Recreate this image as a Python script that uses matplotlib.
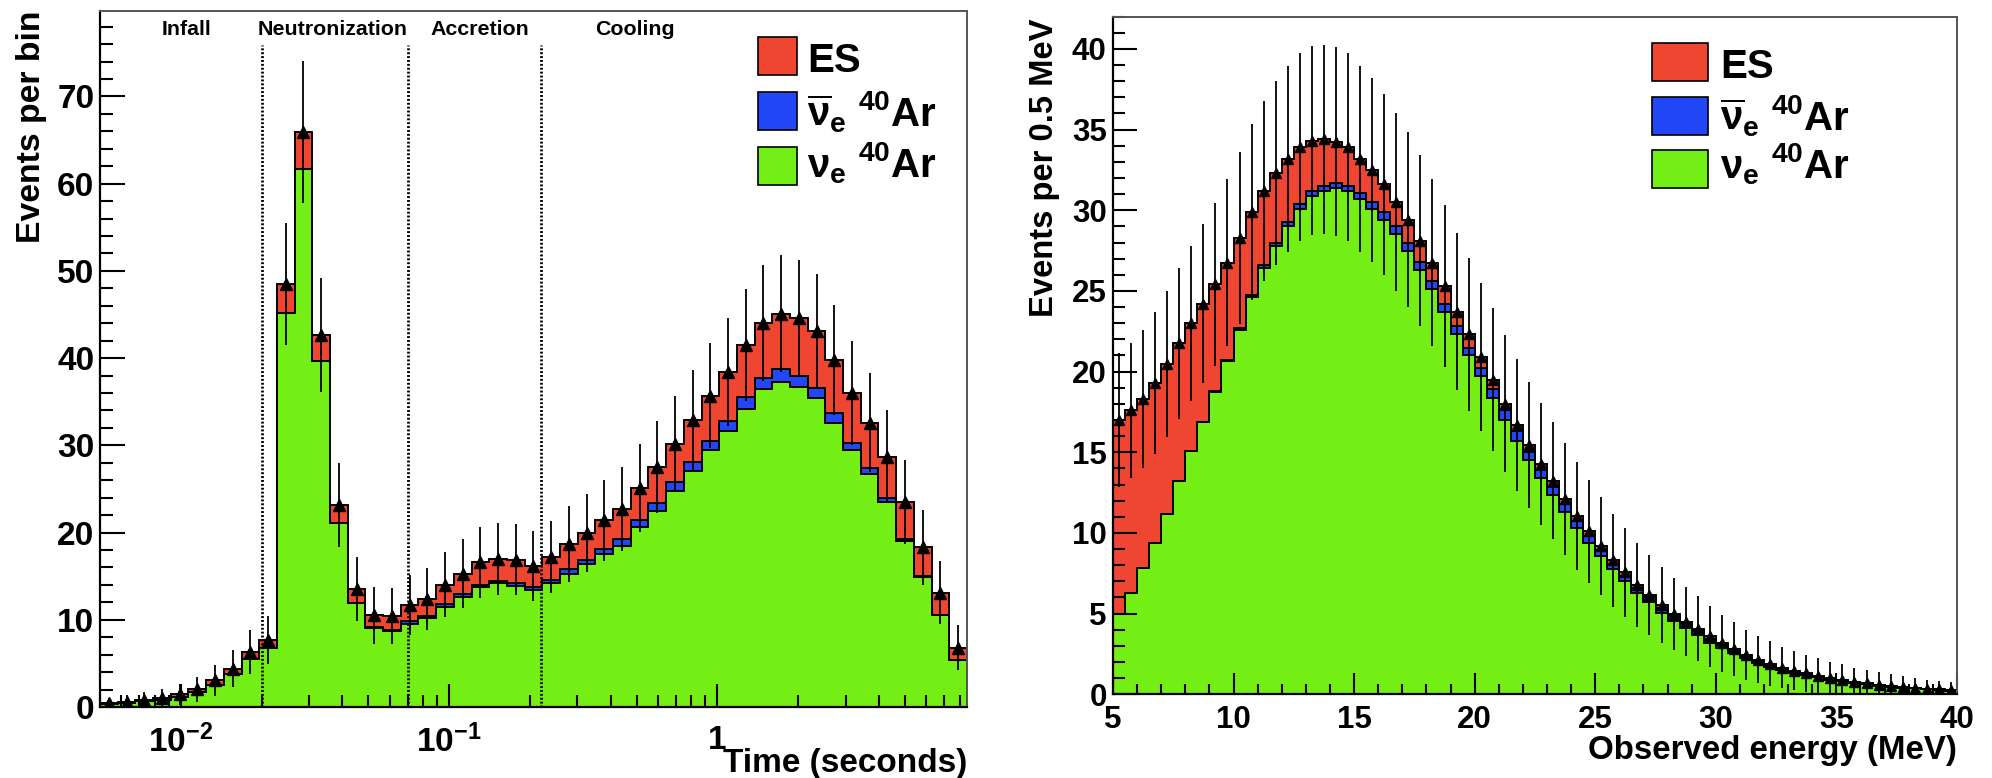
import numpy as np
import matplotlib
matplotlib.use("Agg")
import matplotlib.pyplot as plt
from matplotlib.patches import Rectangle
from matplotlib.ticker import MultipleLocator, NullFormatter, LogLocator

plt.rcParams['font.family'] = ['Liberation Sans', 'DejaVu Sans']
plt.rcParams['font.weight'] = 'bold'
plt.rcParams['axes.labelweight'] = 'bold'
plt.rcParams['mathtext.fontset'] = 'custom'
plt.rcParams['mathtext.rm'] = 'Liberation Sans'
plt.rcParams['mathtext.bf'] = 'Liberation Sans:bold'
plt.rcParams['mathtext.it'] = 'Liberation Sans:italic'
plt.rcParams['mathtext.default'] = 'bf'

RED = '#ee4630'
BLUE = '#2247f7'
GREEN = '#74ef15'

# --- time spectrum: 49 log bins between 5 ms and 8.5 s
t_edges = np.logspace(np.log10(0.005), np.log10(8.5), 50)
t_nue = [0.30, 0.45, 0.65, 0.85, 1.20, 1.75, 2.50, 3.75, 5.45, 6.80,
         45.2, 61.7, 39.7, 21.1, 11.9, 9.1, 8.7, 9.5, 10.2, 11.5,
         12.6, 13.7, 14.2, 13.9, 13.4, 14.2, 15.3, 16.4, 17.5, 18.5,
         20.6, 22.5, 24.8, 27.1, 29.5, 31.6, 34.2, 36.4, 37.3, 36.7,
         35.4, 32.6, 29.5, 26.7, 23.5, 19.0, 14.9, 10.5, 5.4]
t_nuebar = [0, 0, 0, 0, 0, 0, 0, 0, 0, 0,
            0, 0, 0, 0, 0, 0.05, 0.1, 0.3, 0.2, 0.3,
            0.3, 0.3, 0.3, 0.3, 0.3, 0.4, 0.5, 0.5, 0.6, 0.8,
            0.8, 0.9, 1.0, 1.0, 1.0, 1.2, 1.3, 1.3, 1.4, 1.3,
            1.2, 1.1, 0.8, 0.7, 0.5, 0.3, 0.1, 0.05, 0.02]
t_es = [0.10, 0.15, 0.15, 0.20, 0.25, 0.30, 0.55, 0.65, 0.85, 0.90,
        3.3, 4.2, 3.0, 2.1, 1.6, 1.35, 1.6, 1.9, 2.0, 2.2,
        2.4, 2.6, 2.5, 2.7, 2.5, 2.6, 2.9, 3.1, 3.3, 3.4,
        3.7, 4.1, 4.4, 4.8, 5.2, 5.6, 6.0, 6.3, 6.4, 6.6,
        6.5, 6.1, 5.7, 5.2, 4.7, 4.2, 3.3, 2.55, 1.38]

phase_edges = [0.02, 0.07, 0.22]
phase_names = ['Infall', 'Neutronization', 'Accretion', 'Cooling']
phase_label_x = [0.0105, 0.0367, 0.130, 0.491]

# --- energy spectrum: 0.5 MeV bins from 5 to 40 MeV
e_edges = np.linspace(5, 40, 71)
e_nue = [5.0, 6.3, 7.8, 9.4, 11.2, 13.2, 15.1, 16.9, 18.75, 20.65,
         22.6, 24.6, 26.4, 27.8, 29.05, 30.1, 30.9, 31.2, 31.4, 31.2,
         30.7, 30.1, 29.4, 28.5, 27.5, 26.3, 25.1, 23.7, 22.3, 21.0,
         19.7, 18.35, 17.0, 15.7, 14.5, 13.4, 12.35, 11.3, 10.3, 9.35,
         8.55, 7.75, 7.0, 6.25, 5.7, 5.05, 4.55, 4.1, 3.7, 3.2,
         2.85, 2.55, 2.25, 1.95, 1.7, 1.5, 1.35, 1.2, 1.05, 0.9,
         0.8, 0.68, 0.62, 0.54, 0.47, 0.41, 0.36, 0.30, 0.27, 0.22]
e_nuebar = [0, 0, 0, 0, 0, 0, 0, 0, 0.05, 0.05,
            0.1, 0.15, 0.2, 0.2, 0.25, 0.3, 0.3, 0.3, 0.3, 0.3,
            0.4, 0.4, 0.5, 0.5, 0.45, 0.5, 0.5, 0.5, 0.5, 0.45,
            0.5, 0.55, 0.6, 0.6, 0.5, 0.5, 0.5, 0.5, 0.45, 0.45,
            0.4, 0.35, 0.35, 0.35, 0.3, 0.3, 0.3, 0.25, 0.2, 0.25,
            0.2, 0.15, 0.1, 0.13, 0.12, 0.1, 0.05, 0.05, 0.05, 0.06,
            0.06, 0.04, 0.03, 0.03, 0.03, 0.02, 0.02, 0.02, 0.02, 0.02]
e_es = [12.0, 11.3, 10.5, 9.9, 9.25, 8.55, 7.9, 7.3, 6.6, 6.05,
        5.6, 5.15, 4.6, 4.3, 3.9, 3.5, 3.1, 2.9, 2.55, 2.4,
        2.1, 2.0, 1.7, 1.5, 1.45, 1.3, 1.15, 1.1, 0.9, 0.85,
        0.7, 0.6, 0.4, 0.4, 0.45, 0.4, 0.4, 0.3, 0.3, 0.3,
        0.25, 0.2, 0.2, 0.2, 0.15, 0.2, 0.15, 0.15, 0.15, 0.15,
        0.1, 0.1, 0.1, 0.07, 0.08, 0.05, 0.05, 0.05, 0.05, 0.04,
        0.04, 0.03, 0.03, 0.03, 0.02, 0.02, 0.02, 0.01, 0.01, 0.01]

key_labels = ['ES', r'$\overline{\mathrm{\nu}}_{e}$ $^{40}$Ar', r'$\mathrm{\nu}_{e}$ $^{40}$Ar']
key_colors = [RED, BLUE, GREEN]


def draw_stack(ax, edges, centers, nue, nuebar, es, ms):
    nue = np.array(nue)
    lower = nue + np.array(nuebar)
    total = lower + np.array(es)
    # ROOT-style stack: each cumulative histogram filled and outlined in black
    for vals, col in [(total, RED), (lower, BLUE), (nue, GREEN)]:
        ax.stairs(vals, edges, fill=True, facecolor=col, edgecolor='black', linewidth=1.4, zorder=1)
    ax.errorbar(centers, total, yerr=np.sqrt(total), fmt='^', color='black',
                ms=ms, elinewidth=1.3, capsize=0, zorder=4)


def draw_key(ax, x0, tops, w, h, text_x, baselines, size):
    for top, base, lab, col in zip(tops, baselines, key_labels, key_colors):
        ax.add_patch(Rectangle((x0, top - h), w, h, transform=ax.transAxes, facecolor=col,
                               edgecolor='black', linewidth=1.2, zorder=5))
        ax.text(text_x, base, lab, transform=ax.transAxes, fontsize=size,
                ha='left', va='baseline', zorder=5)


def style_frame(ax):
    for side in ['left', 'bottom']:
        ax.spines[side].set_linewidth(1.6)
        ax.spines[side].set_color('black')
    for side in ['top', 'right']:
        ax.spines[side].set_linewidth(1.4)
        ax.spines[side].set_color('#555555')


fig = plt.figure(figsize=(19.92, 7.78), dpi=100)
fig.patch.set_facecolor('white')

# left: time profile
ax1 = fig.add_axes([0.0502, 0.0913, 0.4352, 0.8946])
ax1.set_xscale('log')
t_centers = np.sqrt(t_edges[:-1] * t_edges[1:])
draw_stack(ax1, t_edges, t_centers, t_nue, t_nuebar, t_es, 9)
ax1.vlines(phase_edges, 0, 75.9, colors='black', linestyles=(0, (0.7, 0.7)), linewidth=2.0, zorder=3)
for name, x in zip(phase_names, phase_label_x):
    ax1.text(x, 77.0, name, ha='center', va='baseline', fontsize=15.4)
ax1.set_xlim(t_edges[0], t_edges[-1])
ax1.set_ylim(0, 79.8)
ax1.set_xticks([0.01, 0.1, 1], [r'$10^{-2}$', r'$10^{-1}$', '1'])
ax1.xaxis.set_minor_locator(LogLocator(base=10, subs=np.arange(2, 10)))
ax1.xaxis.set_minor_formatter(NullFormatter())
ax1.yaxis.set_major_locator(MultipleLocator(10))
ax1.yaxis.set_minor_locator(MultipleLocator(2))
ax1.tick_params(which='both', direction='in', top=False, right=False, width=1.5)
ax1.tick_params(axis='y', which='major', length=18, labelsize=24, pad=4)
ax1.tick_params(axis='y', which='minor', length=9)
ax1.tick_params(axis='x', which='major', length=16.5, labelsize=24, pad=13)
ax1.tick_params(axis='x', which='minor', length=8.6)
ax1.set_ylabel('Events per bin', fontsize=24.3, loc='top')
ax1.yaxis.set_label_coords(-0.061, 1.0)
ax1.set_xlabel('Time (seconds)', fontsize=24, loc='right')
ax1.xaxis.set_label_coords(1.0, -0.059)
ax1.xaxis.label.set_va('top')
style_frame(ax1)
draw_key(ax1, 0.759, [0.9626, 0.8836, 0.8046], 0.045, 0.0546, 0.8155,
         [0.9124, 0.8348, 0.7615], 29)

# right: observed energy spectrum
ax2 = fig.add_axes([0.5587, 0.1076, 0.4237, 0.8710])
e_centers = 0.5 * (e_edges[:-1] + e_edges[1:])
draw_stack(ax2, e_edges, e_centers, e_nue, e_nuebar, e_es, 6.5)
ax2.set_xlim(5, 40)
ax2.set_ylim(0, 42)
ax2.xaxis.set_major_locator(MultipleLocator(5))
ax2.xaxis.set_minor_locator(MultipleLocator(1))
ax2.yaxis.set_major_locator(MultipleLocator(5))
ax2.yaxis.set_minor_locator(MultipleLocator(1))
ax2.tick_params(which='both', direction='in', top=False, right=False, width=1.5)
ax2.tick_params(axis='y', which='major', length=17, labelsize=22.5, pad=4.5)
ax2.tick_params(axis='y', which='minor', length=8.6)
ax2.tick_params(axis='x', which='major', length=15, labelsize=22.5, pad=8)
ax2.tick_params(axis='x', which='minor', length=7.2)
ax2.set_ylabel('Events per 0.5 MeV', fontsize=23.6, loc='top')
ax2.yaxis.set_label_coords(-0.063, 0.998)
ax2.set_xlabel('Observed energy (MeV)', fontsize=23.8, loc='right')
ax2.xaxis.set_label_coords(1.0, -0.060)
ax2.xaxis.label.set_va('top')
style_frame(ax2)
draw_key(ax2, 0.6386, [0.9612, 0.8815, 0.8033], 0.0664, 0.0561, 0.7192,
         [0.9095, 0.8328, 0.762], 29)

fig.savefig('out.png', dpi=100, facecolor='white')
